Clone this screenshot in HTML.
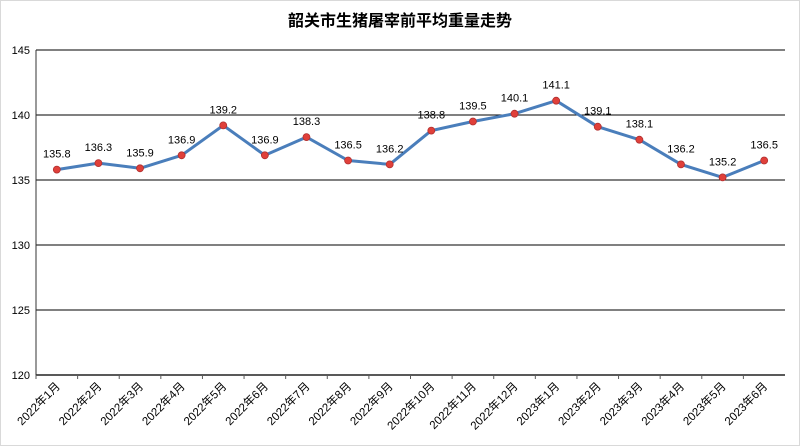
<!DOCTYPE html>
<html><head><meta charset="utf-8"><style>
body{margin:0;background:#fff}
svg{display:block;font-family:"Liberation Sans","Noto Sans CJK SC",sans-serif}
</style></head><body>
<svg width="800" height="446">
<rect x="0.5" y="0.5" width="799" height="445" fill="#fff" stroke="#d9d9d9"/>
<text x="400" y="26" text-anchor="middle" font-size="16" font-weight="bold" fill="#000">韶关市生猪屠宰前平均重量走势</text>
<g id="grid"></g><g id="axes"></g><g id="series"></g>
</svg>
<script>
const categories=["2022年1月","2022年2月","2022年3月","2022年4月","2022年5月","2022年6月","2022年7月","2022年8月","2022年9月","2022年10月","2022年11月","2022年12月","2023年1月","2023年2月","2023年3月","2023年4月","2023年5月","2023年6月"];
const values=[135.8,136.3,135.9,136.9,139.2,136.9,138.3,136.5,136.2,138.8,139.5,140.1,141.1,139.1,138.1,136.2,135.2,136.5];
const yTicks=[120,125,130,135,140,145];
const NS="http://www.w3.org/2000/svg";
const L=36,R=785,T=50,B=375,yMin=120,yMax=145;
const bw=(R-L)/categories.length;
const x=i=>L+bw*(i+0.5);
const y=v=>B-(v-yMin)/(yMax-yMin)*(B-T);
function mk(tag,attrs,parent,text){const e=document.createElementNS(NS,tag);for(const k in attrs)e.setAttribute(k,attrs[k]);if(text!==undefined)e.textContent=text;document.getElementById(parent).appendChild(e);return e;}
yTicks.forEach(t=>{
 const g=mk('line',{x1:L,x2:R,y1:y(t),y2:y(t),stroke:t===yMin?'#595959':'#000','stroke-width':t===yMin?2:1},'grid');
 
 
 const lb=mk('text',{x:L-6,y:y(t)+4,'text-anchor':'end','font-size':11,fill:'#000'},'axes',t);
 
 
});
const ya=mk('line',{x1:L,x2:L,y1:T,y2:B,stroke:'#333','stroke-width':1},'axes');


categories.forEach((c,i)=>{
 const tk=mk('line',{x1:L+bw*i,x2:L+bw*i,y1:B,y2:B+4,stroke:'#595959'},'axes');
 
 
 const cx=x(i)+4,cy=B+12;
 const t=mk('text',{x:cx,y:cy,'text-anchor':'end','font-size':11.5,fill:'#000',transform:`rotate(-45 ${cx} ${cy})`},'axes',c);
 
 
});
const pl=mk('polyline',{points:values.map((v,i)=>x(i)+','+y(v)).join(' '),fill:'none',stroke:'#4a7ebb','stroke-width':3,'stroke-linejoin':'round'},'series');


values.forEach((v,i)=>{
 const c=mk('circle',{cx:x(i),cy:y(v),r:3.5,fill:'#e0403a',stroke:'#b03030','stroke-width':0.8},'series');
 
 
 const t=mk('text',{x:x(i),y:y(v)-12,'text-anchor':'middle','font-size':11,fill:'#000'},'series',v.toFixed(1));
 
 
});
</script>
</body></html>
